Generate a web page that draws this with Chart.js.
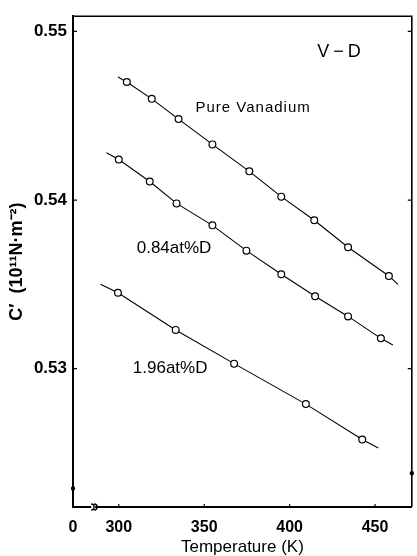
<!DOCTYPE html>
<html>
<head>
<meta charset="utf-8">
<script src="https://cdn.jsdelivr.net/npm/chart.js@4.4.0/dist/chart.umd.min.js"></script>
<style>
  html, body { margin: 0; padding: 0; background: #fff; }
  #wrap { width: 417px; height: 556px; }
</style>
</head>
<body>
<div id="wrap"><canvas id="vdChart" width="417" height="556"></canvas></div>
<script>
// C' of V-D alloys vs temperature

// measured points
const tempPure = [304.7, 319.3, 335.0, 354.8, 376.4, 395.1, 414.4, 434.2, 458.1];
const cPure    = [0.5470, 0.5460, 0.5448, 0.5433, 0.5417, 0.5402, 0.5388, 0.5372, 0.5355];
const temp084  = [300.0, 318.1, 333.8, 354.8, 374.7, 395.1, 414.9, 434.2, 453.4];
const c084     = [0.5424, 0.5411, 0.5398, 0.5385, 0.5370, 0.5356, 0.5343, 0.5331, 0.5318];
const temp196  = [299.5, 333.3, 367.5, 409.5, 442.5];
const c196     = [0.5345, 0.5323, 0.5303, 0.5279, 0.5258];

// where the drawn lines start and stop, beyond the first and last points
const linePureT = [299.5, 463.4];
const linePureC = [0.5473, 0.5350];
const line084T  = [292.8, 460.4];
const line084C  = [0.5428, 0.5314];
const line196T  = [289.3, 451.9];
const line196C  = [0.5350, 0.5253];

// axes
const xMin = 273.2;          // left end of the broken axis, labelled 0
const xMax = 471.5;
const yMin = 0.5218;
const yMax = 0.5509;
const xTicks = [300, 350, 400, 450];
const yTicks = [0.53, 0.54, 0.55];

// small marks on the side axes
const sideMarkLeft  = 0.5229;
const sideMarkRight = 0.5238;

// text labels inside the plot
const labelTexts = ['V\u2212D', 'Pure Vanadium', '0.84at%D', '1.96at%D'];
const labelTemps = [416.1, 344.9, 310.5, 308.2];
const labelVals  = [0.54877, 0.54548, 0.53716, 0.5300];

function pts(xs, ys) {
  return xs.map((x, i) => ({ x: x, y: ys[i] }));
}

function pointSet(label, xs, ys) {
  return {
    label: label,
    data: pts(xs, ys),
    showLine: false,
    pointRadius: 3.4,
    pointBorderWidth: 1.2,
    pointBorderColor: '#000',
    pointBackgroundColor: '#fff',
    order: 0
  };
}

// line goes from its start, through every point, to its end
function lineSet(label, xs, ys, ends, endVals) {
  const data = [{ x: ends[0], y: endVals[0] }]
    .concat(pts(xs, ys))
    .concat([{ x: ends[1], y: endVals[1] }]);
  return {
    label: label,
    data: data,
    showLine: true,
    borderColor: '#000',
    borderWidth: 1.1,
    pointRadius: 0,
    order: 1
  };
}

const labelFonts = [
  '18px "Liberation Sans", Arial, sans-serif',
  '15px "Liberation Sans", Arial, sans-serif',
  '17px "Liberation Sans", Arial, sans-serif',
  '17px "Liberation Sans", Arial, sans-serif'
];
const labelSpacing = ['4px', '1px', '0px', '0px'];

// frame, inward ticks, axis break and text labels
const decorPlugin = {
  id: 'decor',
  afterDraw(chart) {
    const ctx = chart.ctx;
    const a = chart.chartArea;
    const xs = chart.scales.x;
    const ys = chart.scales.y;
    ctx.save();
    ctx.strokeStyle = '#000';
    ctx.lineWidth = 1.6;
    ctx.beginPath();
    ctx.moveTo(a.left, a.top);
    ctx.lineTo(a.right, a.top);
    ctx.lineTo(a.right, a.bottom);
    ctx.stroke();

    ctx.lineWidth = 1.2;
    ctx.beginPath();
    yTicks.forEach(v => {
      const py = ys.getPixelForValue(v);
      ctx.moveTo(a.left, py);
      ctx.lineTo(a.left + 4, py);
      ctx.moveTo(a.right, py);
      ctx.lineTo(a.right - 4, py);
    });
    xTicks.forEach(v => {
      const px = xs.getPixelForValue(v);
      ctx.moveTo(px, a.bottom);
      ctx.lineTo(px, a.bottom - 3);
    });
    ctx.stroke();

    // dots on the side axes
    ctx.fillStyle = '#000';
    ctx.beginPath();
    ctx.arc(a.left, ys.getPixelForValue(sideMarkLeft), 2.2, 0, Math.PI * 2);
    ctx.arc(a.right, ys.getPixelForValue(sideMarkRight), 2.2, 0, Math.PI * 2);
    ctx.fill();

    // axis break between 0 and 300
    const bx = xs.getPixelForValue(285);
    ctx.fillStyle = '#fff';
    ctx.fillRect(bx - 2, a.bottom - 3, 4, 6);
    ctx.lineWidth = 1.3;
    ctx.beginPath();
    ctx.arc(bx - 2, a.bottom, 3, -Math.PI / 2, Math.PI / 2);
    ctx.moveTo(bx + 1, a.bottom - 3);
    ctx.arc(bx + 1, a.bottom, 3, -Math.PI / 2, Math.PI / 2);
    ctx.stroke();

    ctx.fillStyle = '#000';
    ctx.textBaseline = 'middle';
    ctx.textAlign = 'left';
    labelTexts.forEach((t, i) => {
      const px = xs.getPixelForValue(labelTemps[i]);
      const py = ys.getPixelForValue(labelVals[i]);
      ctx.font = labelFonts[i];
      ctx.letterSpacing = labelSpacing[i];
      ctx.fillText(t, px, py);
    });
    ctx.restore();
  }
};

const ctx = document.getElementById('vdChart').getContext('2d');
new Chart(ctx, {
  type: 'scatter',
  data: {
    datasets: [
      pointSet('Pure Vanadium', tempPure, cPure),
      pointSet('0.84at%D', temp084, c084),
      pointSet('1.96at%D', temp196, c196),
      lineSet('Pure Vanadium line', tempPure, cPure, linePureT, linePureC),
      lineSet('0.84at%D line', temp084, c084, line084T, line084C),
      lineSet('1.96at%D line', temp196, c196, line196T, line196C)
    ]
  },
  options: {
    responsive: false,
    animation: false,
    layout: { padding: { top: 10, right: 4, left: 0, bottom: 0 } },
    plugins: {
      legend: { display: false },
      tooltip: { enabled: false }
    },
    scales: {
      x: {
        type: 'linear',
        min: xMin,
        max: xMax,
        afterBuildTicks: scale => {
          scale.ticks = [xMin].concat(xTicks).map(v => ({ value: v }));
        },
        afterFit: scale => { scale.height = 49; },
        grid: { display: false, drawTicks: false },
        border: { display: true, color: '#000', width: 2 },
        ticks: {
          color: '#000',
          padding: 11,
          maxRotation: 0,
          font: { family: '"Liberation Sans", Arial, sans-serif', size: 16, weight: 'bold' },
          callback: v => (v === xMin ? '0' : String(v))
        },
        title: {
          display: true,
          text: 'Temperature (K)',
          color: '#000',
          padding: { top: 0, bottom: 0 },
          font: { family: '"Liberation Sans", Arial, sans-serif', size: 17, lineHeight: 1.0 }
        }
      },
      y: {
        type: 'linear',
        min: yMin,
        max: yMax,
        afterBuildTicks: scale => {
          scale.ticks = yTicks.map(v => ({ value: v }));
        },
        afterFit: scale => { scale.width = 73; },
        grid: { display: false, drawTicks: false },
        border: { display: true, color: '#000', width: 2 },
        ticks: {
          color: '#000',
          padding: 6,
          font: { family: '"Liberation Sans", Arial, sans-serif', size: 17, weight: 'bold' },
          callback: v => v.toFixed(2)
        },
        title: {
          display: true,
          text: 'C\u2032  (10\u00b9\u00b9N\u00b7m\u207b\u00b2)',
          color: '#000',
          padding: { top: 7, bottom: 0 },
          font: { family: '"Liberation Sans", Arial, sans-serif', size: 18, weight: 'bold', lineHeight: 1.1 }
        }
      }
    }
  },
  plugins: [decorPlugin]
});
</script>
</body>
</html>
